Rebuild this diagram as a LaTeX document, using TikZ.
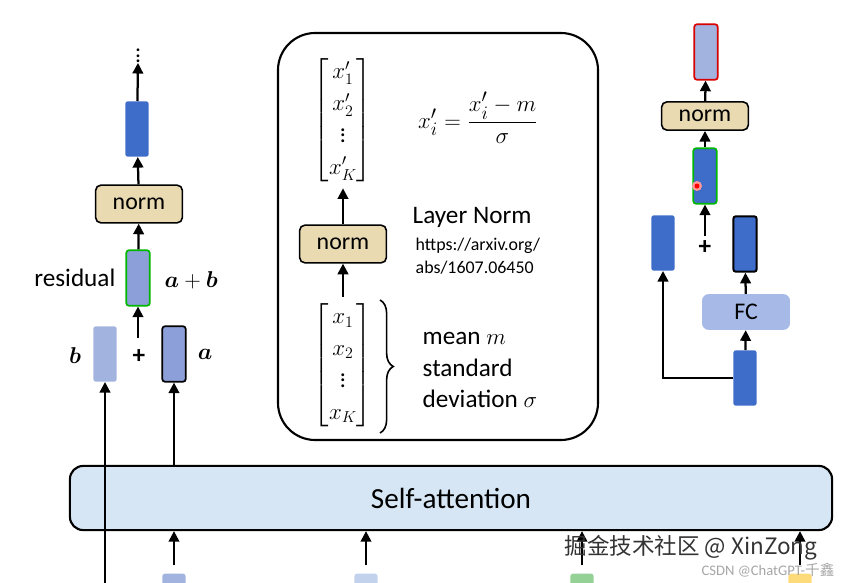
\documentclass[tikz,border=0pt]{standalone}
\usepackage{fontspec}
\usepackage{amsmath,bm}
\setmainfont{Carlito}
\newfontfamily\cjk{Noto Sans CJK SC}
\usetikzlibrary{arrows.meta,decorations.pathreplacing}
\definecolor{dkb}{HTML}{3D6CC9}
\definecolor{ltb}{HTML}{A3B3E0}
\definecolor{mdb}{HTML}{8C9FD8}
\definecolor{nrm}{HTML}{E9DAB2}
\definecolor{sa}{HTML}{D6E6F4}
\definecolor{fcb}{HTML}{A7B9E6}
\begin{document}
\begin{tikzpicture}[x=0.0265cm,y=-0.0265cm,
 vec/.style={draw=none,rounded corners=2pt,minimum width=0.62cm,minimum height=1.47cm,inner sep=0pt},
 normb/.style={draw=black,line width=1.2pt,fill=nrm,rounded corners=4pt,minimum width=2.3cm,minimum height=1cm,font=\fontsize{18}{18}\selectfont},
 arr/.style={-{Triangle[length=8pt,width=8pt]},line width=1.7pt},
 lbl/.style={font=\fontsize{19}{22}\selectfont}]
\useasboundingbox (0,0) rectangle (865,583);
% left column
\node[font=\bfseries\fontsize{14}{14}\selectfont,inner sep=0pt] (dots) at (138,52) {$\vdots$};
\node[vec,fill=dkb] (top) at (137,129) {};
\node[normb] (n1) at (139,204) {norm};
\node[vec,fill=mdb,draw=green!60!black!70!green,line width=1.3pt] (res) at (138,278) {};
\node[lbl,anchor=east] (rl) at (120,278) {residual};
\node[lbl,anchor=west] (ab) at (160,280) {$\bm{a}+\bm{b}$};
\node[vec,fill=ltb] (b) at (105,354) {};
\node[vec,fill=mdb,draw=black,line width=1.3pt] (a) at (174,354) {};
\node[lbl] (bl) at (75,356) {$\bm{b}$};
\node[lbl] (pl) at (139,357) {\textbf{+}};
\node[lbl] (al) at (205,354) {$\bm{a}$};
% self-attention
\node[draw=black,line width=1.6pt,fill=sa,rounded corners=10pt,minimum width=20.2cm,minimum height=1.7cm,font=\fontsize{22}{22}\selectfont] (sa) at (451,498) {Self-attention};
\coordinate (bb) at (105,583);
\draw[arr] (bb) -- (b);
\draw[arr] (sa.north -| a) -- (a);
\draw[arr] (res) -- (n1); \draw[arr] (n1) -- (top);
\draw[arr] (top) -- (dots.south);
\coordinate (pt) at (138,338); \draw[arr] (pt) -- (res);
% bottom inputs
\foreach \x/\c [count=\i] in {174/ltb,366/sa!60!ltb,582/green!40!gray!60!white,800/yellow!50!orange!50!white}{
 \node[fill=\c,rounded corners=2pt,minimum width=0.62cm,minimum height=0.6cm,inner sep=0pt] (in\i) at (\x,585) {};
 \draw[arr] (in\i.north) ++(0,-8) coordinate (c\i) (c\i) -- (sa.south -| in\i);
}
% middle panel
\draw[line width=1.6pt,rounded corners=28pt] (278,33) rectangle (598,440);
\node[font=\fontsize{18}{24}\selectfont] (xp) at (343,120) {$\begin{bmatrix}x_1'\\x_2'\\\vdots\\x_K'\end{bmatrix}$};
\node[font=\fontsize{19}{24}\selectfont] (fm) at (478,118) {$x_i'=\dfrac{x_i'-m}{\sigma}$};
\node[normb] (n2) at (343,244) {norm};
\node[font=\fontsize{18}{24}\selectfont] (xx) at (343,365) {$\begin{bmatrix}x_1\\x_2\\\vdots\\x_K\end{bmatrix}$};
\draw[arr] (n2) -- (xp);
\draw[arr] (xx) -- (n2);
\draw[decorate,decoration={brace,amplitude=10pt},line width=1.2pt] (380,300) -- (380,433) coordinate[pos=0.5] (brc);
\node[lbl,anchor=west] (ln) at (408,217) {Layer Norm};
\node[anchor=west,font=\fontsize{13.5}{17}\selectfont,align=left] (url) at (411,256) {https://arxiv.org/\\abs/1607.06450};
\node[lbl,anchor=west,align=left] (mm) at (418,370) {mean $m$\\[2pt]standard\\[2pt]deviation $\sigma$};
% right column
\node[vec,fill=ltb,draw=red!85!black,line width=1.3pt] (red) at (706,52) {};
\node[normb,minimum height=0.75cm] (n3) at (705,116) {norm};
\node[vec,fill=dkb,draw=green!60!black!70!green,line width=1.3pt] (g) at (705,176) {};
\fill[red!40] (697,186) circle (5);
\fill[red] (697,186) circle (2.5);
\node[vec,fill=dkb] (lb) at (663,243) {};
\node[vec,fill=dkb,draw=black,line width=1.5pt] (rb) at (745,244) {};
\node[lbl] (p2) at (705,248) {\textbf{+}};
\node[fill=fcb,rounded corners=5pt,minimum width=2.33cm,minimum height=0.95cm,font=\fontsize{18}{18}\selectfont] (fc) at (746,312) {FC};
\node[vec,fill=dkb] (bt) at (745,378) {};
\draw[arr] (p2.north) -- (g);
\draw[arr] (g) -- (n3); \draw[arr] (n3) -- (red);
\draw[arr] (fc) -- (rb); \draw[arr] (bt) -- (fc);
\draw[arr] (bt.west) ++(0,0) coordinate (bw) (bw) -| (lb.south);
% watermarks
\node[anchor=west,font=\cjk\fontsize{17}{17}\selectfont,text=black!80] (w1) at (560,548) {掘金技术社区 @ XinZong};
\node[anchor=west,font=\fontsize{11}{11}\selectfont,text=black!35] (w2) at (697,570) {CSDN @ChatGPT-\cjk 千鑫};
\end{tikzpicture}
\end{document}
